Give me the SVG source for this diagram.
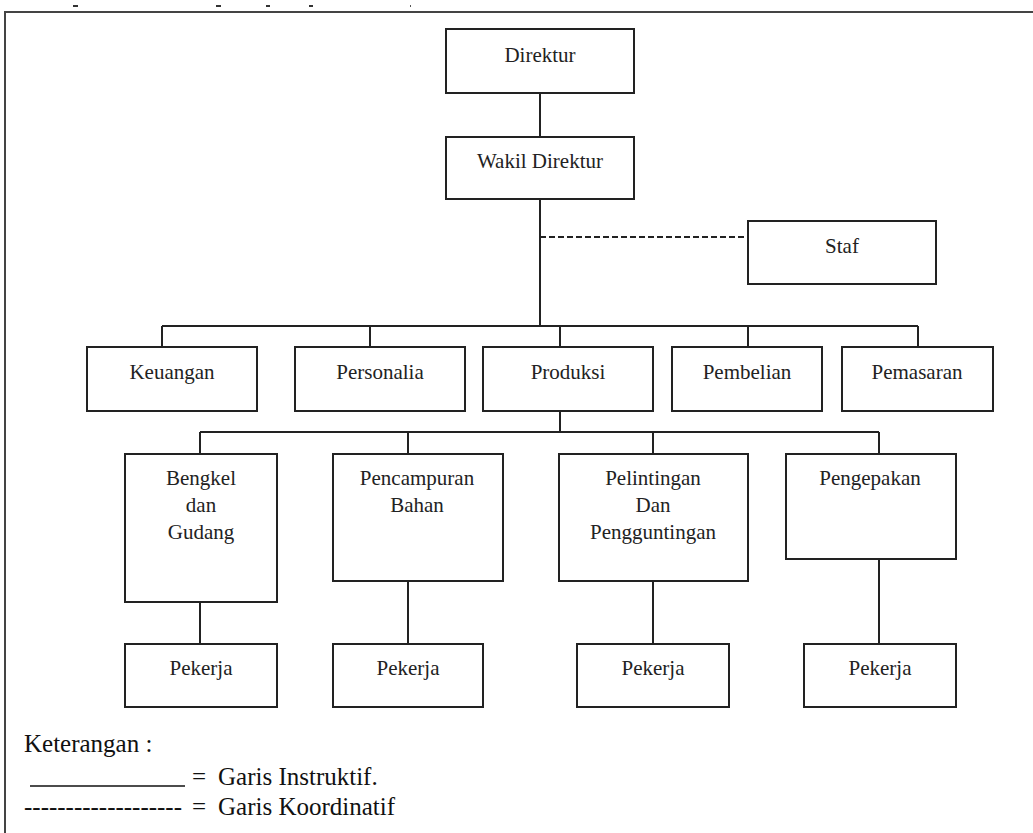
<svg xmlns="http://www.w3.org/2000/svg" width="1033" height="833" viewBox="0 0 1033 833">
<style>
.box{fill:#fff;stroke:#222;stroke-width:2}
.ln{fill:none;stroke:#222;stroke-width:2}
.dash{fill:none;stroke:#222;stroke-width:2;stroke-dasharray:6 3}
text{font-family:"Liberation Serif","DejaVu Serif",serif}
.t{font-size:21px;fill:#222;text-anchor:middle}
.lg{font-size:25px;fill:#111}
</style>
<rect width="1033" height="833" fill="#fff"/>
<g id="frame">
<path d="M4,12 H1033 M5,12 V833" fill="none" stroke="#444" stroke-width="2"/>
<rect x="73" y="5" width="5" height="2" fill="#333"/>
<rect x="216" y="5" width="5" height="2" fill="#333"/>
<rect x="266" y="5" width="4" height="2" fill="#333"/>
<rect x="309" y="5" width="4" height="2" fill="#333"/>
<rect x="410" y="5" width="1" height="2" fill="#555"/>
</g>
<g id="connectors">
<path class="ln" d="M540,93 V137 M540,199 V326 M162,326 H918 M162,326 V347 M370,326 V347 M560,326 V347 M748,326 V347 M918,326 V347"/>
<path class="dash" d="M540,237 H748"/>
<path class="ln" d="M560,411 V432 M200,432 H879 M200,432 V454 M408,432 V454 M653,432 V454 M879,432 V454"/>
<path class="ln" d="M200,602 V644 M408,581 V644 M653,581 V644 M879,559 V644"/>
</g>
<g id="direktur"><rect class="box" x="446" y="29" width="188" height="64"/><text class="t" x="540" y="62" font-family="Liberation Serif, DejaVu Serif, serif">Direktur</text></g>
<g id="wakil-direktur"><rect class="box" x="446" y="137" width="188" height="62"/><text class="t" x="540" y="168">Wakil Direktur</text></g>
<g id="staf"><rect class="box" x="748" y="221" width="188" height="63"/><text class="t" x="842" y="253">Staf</text></g>
<g id="keuangan"><rect class="box" x="87" y="347" width="170" height="64"/><text class="t" x="172" y="379">Keuangan</text></g>
<g id="personalia"><rect class="box" x="295" y="347" width="170" height="64"/><text class="t" x="380" y="379">Personalia</text></g>
<g id="produksi"><rect class="box" x="483" y="347" width="170" height="64"/><text class="t" x="568" y="379">Produksi</text></g>
<g id="pembelian"><rect class="box" x="672" y="347" width="150" height="64"/><text class="t" x="747" y="379">Pembelian</text></g>
<g id="pemasaran"><rect class="box" x="842" y="347" width="151" height="64"/><text class="t" x="917" y="379">Pemasaran</text></g>
<g id="bengkel"><rect class="box" x="125" y="454" width="152" height="148"/><text class="t" x="201" y="485">Bengkel</text><text class="t" x="201" y="512">dan</text><text class="t" x="201" y="539">Gudang</text></g>
<g id="pencampuran"><rect class="box" x="333" y="454" width="170" height="127"/><text class="t" x="417" y="485">Pencampuran</text><text class="t" x="417" y="512">Bahan</text></g>
<g id="pelintingan"><rect class="box" x="559" y="454" width="189" height="127"/><text class="t" x="653" y="485">Pelintingan</text><text class="t" x="653" y="512">Dan</text><text class="t" x="653" y="539">Pengguntingan</text></g>
<g id="pengepakan"><rect class="box" x="786" y="454" width="170" height="105"/><text class="t" x="870" y="485">Pengepakan</text></g>
<g id="pekerja1"><rect class="box" x="125" y="644" width="152" height="63"/><text class="t" x="201" y="675">Pekerja</text></g>
<g id="pekerja2"><rect class="box" x="333" y="644" width="150" height="63"/><text class="t" x="408" y="675">Pekerja</text></g>
<g id="pekerja3"><rect class="box" x="577" y="644" width="152" height="63"/><text class="t" x="653" y="675">Pekerja</text></g>
<g id="pekerja4"><rect class="box" x="804" y="644" width="152" height="63"/><text class="t" x="880" y="675">Pekerja</text></g>
<g id="legend">
<text class="lg" x="24" y="752">Keterangan :</text>
<line x1="30" y1="786" x2="185" y2="786" stroke="#111" stroke-width="1.5"/>
<text class="lg" x="192" y="785">=</text>
<text class="lg" x="218" y="785">Garis Instruktif.</text>
<text class="lg" x="24" y="815" textLength="158" lengthAdjust="spacingAndGlyphs">-------------------</text>
<text class="lg" x="192" y="815">=</text>
<text class="lg" x="218" y="815">Garis Koordinatif</text>
</g>
</svg>
